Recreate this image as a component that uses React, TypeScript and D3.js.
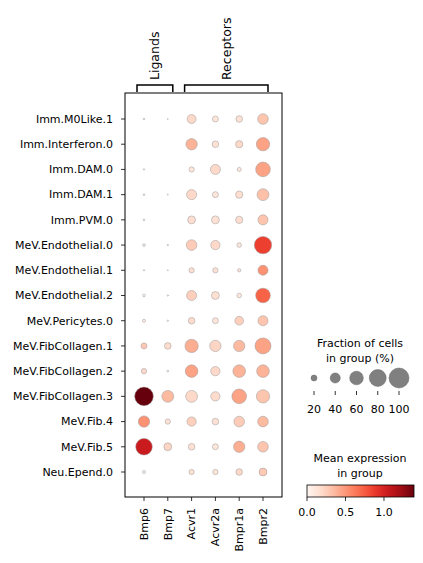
import React, { useEffect, useRef } from 'react';
import * as d3 from 'd3';

const groups = [
  'Imm.M0Like.1', 'Imm.Interferon.0', 'Imm.DAM.0', 'Imm.DAM.1', 'Imm.PVM.0',
  'MeV.Endothelial.0', 'MeV.Endothelial.1', 'MeV.Endothelial.2', 'MeV.Pericytes.0',
  'MeV.FibCollagen.1', 'MeV.FibCollagen.2', 'MeV.FibCollagen.3', 'MeV.Fib.4', 'MeV.Fib.5',
  'Neu.Epend.0',
];
const genes = ['Bmp6', 'Bmp7', 'Acvr1', 'Acvr2a', 'Bmpr1a', 'Bmpr2'];

// fraction of cells expressing (0-1), rows = groups, cols = genes
const fraction = [
  [0.04, 0.02, 0.34, 0.2, 0.23, 0.43],
  [0, 0, 0.47, 0.23, 0.26, 0.58],
  [0.03, 0, 0.17, 0.4, 0.12, 0.66],
  [0.04, 0.02, 0.4, 0.2, 0.26, 0.5],
  [0.04, 0, 0.29, 0.29, 0.26, 0.4],
  [0.07, 0.03, 0.43, 0.36, 0.14, 0.83],
  [0.03, 0.02, 0.17, 0.17, 0.09, 0.4],
  [0.07, 0.03, 0.4, 0.29, 0.14, 0.66],
  [0.08, 0.03, 0.23, 0.2, 0.33, 0.4],
  [0.2, 0.23, 0.58, 0.47, 0.47, 0.74],
  [0.17, 0.04, 0.54, 0.36, 0.54, 0.54],
  [0.91, 0.5, 0.5, 0.36, 0.66, 0.58],
  [0.47, 0.17, 0.36, 0.23, 0.43, 0.43],
  [0.78, 0.29, 0.23, 0.2, 0.47, 0.43],
  [0.08, 0, 0.17, 0.17, 0.23, 0.29],
];

// mean expression in group
const meanExpr = [
  [0.02, 0, 0.2, 0.12, 0.15, 0.3],
  [0, 0, 0.38, 0.15, 0.2, 0.45],
  [0.02, 0, 0.12, 0.2, 0.1, 0.45],
  [0.02, 0.01, 0.2, 0.12, 0.17, 0.32],
  [0.02, 0, 0.17, 0.15, 0.17, 0.3],
  [0.05, 0.01, 0.27, 0.2, 0.12, 0.86],
  [0.02, 0.01, 0.17, 0.15, 0.13, 0.52],
  [0.05, 0.01, 0.25, 0.16, 0.1, 0.72],
  [0.08, 0.01, 0.18, 0.12, 0.25, 0.3],
  [0.28, 0.18, 0.4, 0.22, 0.35, 0.45],
  [0.2, 0.02, 0.45, 0.2, 0.38, 0.38],
  [1.39, 0.35, 0.2, 0.18, 0.45, 0.3],
  [0.52, 0.15, 0.25, 0.15, 0.27, 0.35],
  [1.05, 0.22, 0.15, 0.12, 0.4, 0.3],
  [0.08, 0, 0.15, 0.12, 0.2, 0.28],
];

const geneGroups = [
  { label: 'Ligands', start: 'Bmp6', end: 'Bmp7' },
  { label: 'Receptors', start: 'Acvr1', end: 'Bmpr2' },
];

const sizeLegendValues = [20, 40, 60, 80, 100];
const colorTicks = [0, 0.5, 1.0];
const vmax = 1.39;

const DotPlot = () => {
  const ref = useRef<SVGSVGElement | null>(null);

  useEffect(() => {
    if (!ref.current) return;
    const svg = d3.select(ref.current);
    svg.selectAll('*').remove();

    const font = 'DejaVu Sans, sans-serif';
    const frame = { x0: 125, x1: 282, y0: 93, y1: 497 };

    const x = d3.scalePoint<string>().domain(genes).range([144, 263]);
    const y = d3.scalePoint<string>().domain(groups).range([119, 472]);
    const rMax = 10;
    const r = (f: number) => rMax * Math.pow(f, 0.75);
    const color = d3.scaleSequential(d3.interpolateReds).domain([0, vmax]);

    // frame
    svg.append('rect')
      .attr('x', frame.x0).attr('y', frame.y0)
      .attr('width', frame.x1 - frame.x0).attr('height', frame.y1 - frame.y0)
      .attr('fill', 'none').attr('stroke', 'black').attr('stroke-width', 1);

    // y axis ticks + labels
    const yAxis = svg.append('g');
    groups.forEach(g => {
      yAxis.append('line')
        .attr('x1', frame.x0 - 4).attr('x2', frame.x0)
        .attr('y1', y(g)!).attr('y2', y(g)!)
        .attr('stroke', 'black').attr('stroke-width', 0.8);
      yAxis.append('text')
        .attr('x', frame.x0 - 12).attr('y', y(g)!)
        .attr('dy', '0.35em').attr('text-anchor', 'end')
        .style('font-family', font).style('font-size', '11px')
        .text(g);
    });

    // x axis ticks + rotated labels
    const xAxis = svg.append('g');
    genes.forEach(g => {
      xAxis.append('line')
        .attr('x1', x(g)!).attr('x2', x(g)!)
        .attr('y1', frame.y1).attr('y2', frame.y1 + 4)
        .attr('stroke', 'black').attr('stroke-width', 0.8);
      xAxis.append('text')
        .attr('transform', `translate(${x(g)},${frame.y1 + 11}) rotate(-90)`)
        .attr('dy', '0.35em').attr('text-anchor', 'end')
        .style('font-family', font).style('font-size', '11px')
        .text(g);
    });

    // dots
    const cells: { g: string; gene: string; f: number; m: number }[] = [];
    groups.forEach((g, i) => genes.forEach((gene, j) => {
      cells.push({ g, gene, f: fraction[i][j], m: meanExpr[i][j] });
    }));
    svg.append('g').selectAll('circle')
      .data(cells.filter(d => d.f > 0))
      .enter().append('circle')
      .attr('cx', d => x(d.gene)!)
      .attr('cy', d => y(d.g)!)
      .attr('r', d => r(d.f))
      .attr('fill', d => color(d.m))
      .attr('stroke', '#999')
      .attr('stroke-width', 0.5);

    // gene group brackets
    geneGroups.forEach(gg => {
      const a = x(gg.start)! - 7;
      const b = x(gg.end)! + 5;
      svg.append('path')
        .attr('d', `M${a},${frame.y0 - 1}V85H${b}V${frame.y0 - 1}`)
        .attr('fill', 'none').attr('stroke', 'black').attr('stroke-width', 1.5);
      svg.append('text')
        .attr('transform', `translate(${(a + b) / 2},80) rotate(-90)`)
        .attr('dy', '0.35em').attr('text-anchor', 'start')
        .style('font-family', font).style('font-size', '12.5px')
        .text(gg.label);
    });

    // size legend
    const sx = d3.scalePoint<string>().domain(sizeLegendValues.map(String)).range([314, 399]);
    const legTitle = svg.append('text')
      .attr('text-anchor', 'middle')
      .style('font-family', font).style('font-size', '11px');
    legTitle.append('tspan').attr('x', 360).attr('y', 347).text('Fraction of cells');
    legTitle.append('tspan').attr('x', 360).attr('y', 362).text('in group (%)');
    sizeLegendValues.forEach(v => {
      const cx = sx(String(v))!;
      svg.append('circle')
        .attr('cx', cx).attr('cy', 378).attr('r', r(v / 100))
        .attr('fill', '#808080').attr('stroke', '#666').attr('stroke-width', 0.5);
      svg.append('line')
        .attr('x1', cx).attr('x2', cx).attr('y1', 391).attr('y2', 395)
        .attr('stroke', 'black').attr('stroke-width', 0.8);
      svg.append('text')
        .attr('x', cx).attr('y', 413).attr('text-anchor', 'middle')
        .style('font-family', font).style('font-size', '11px')
        .text(v);
    });

    // color bar
    const cb = { x0: 307, x1: 414, y0: 485, y1: 497 };
    const cbx = d3.scaleLinear().domain([0, vmax]).range([cb.x0, cb.x1]);
    const defs = svg.append('defs');
    const grad = defs.append('linearGradient').attr('id', 'redsGrad')
      .attr('x1', '0%').attr('x2', '100%').attr('y1', '0%').attr('y2', '0%');
    d3.range(0, 1.0001, 0.05).forEach(t => {
      grad.append('stop').attr('offset', `${t * 100}%`).attr('stop-color', d3.interpolateReds(t));
    });
    const cbTitle = svg.append('text')
      .attr('text-anchor', 'middle')
      .style('font-family', font).style('font-size', '11px');
    cbTitle.append('tspan').attr('x', 360).attr('y', 462).text('Mean expression');
    cbTitle.append('tspan').attr('x', 360).attr('y', 477).text('in group');
    svg.append('rect')
      .attr('x', cb.x0).attr('y', cb.y0)
      .attr('width', cb.x1 - cb.x0).attr('height', cb.y1 - cb.y0)
      .attr('fill', 'url(#redsGrad)').attr('stroke', 'black').attr('stroke-width', 0.8);
    colorTicks.forEach(t => {
      svg.append('line')
        .attr('x1', cbx(t)).attr('x2', cbx(t)).attr('y1', cb.y1).attr('y2', cb.y1 + 4)
        .attr('stroke', 'black').attr('stroke-width', 0.8);
      svg.append('text')
        .attr('x', cbx(t)).attr('y', cb.y1 + 19).attr('text-anchor', 'middle')
        .style('font-family', font).style('font-size', '11px')
        .text(t.toFixed(1));
    });
  }, []);

  return <svg ref={ref} width={423} height={563} style={{ display: 'block' }} />;
};

export default function App() {
  return (
    <div style={{ margin: -8 }}>
      <DotPlot />
    </div>
  );
}
